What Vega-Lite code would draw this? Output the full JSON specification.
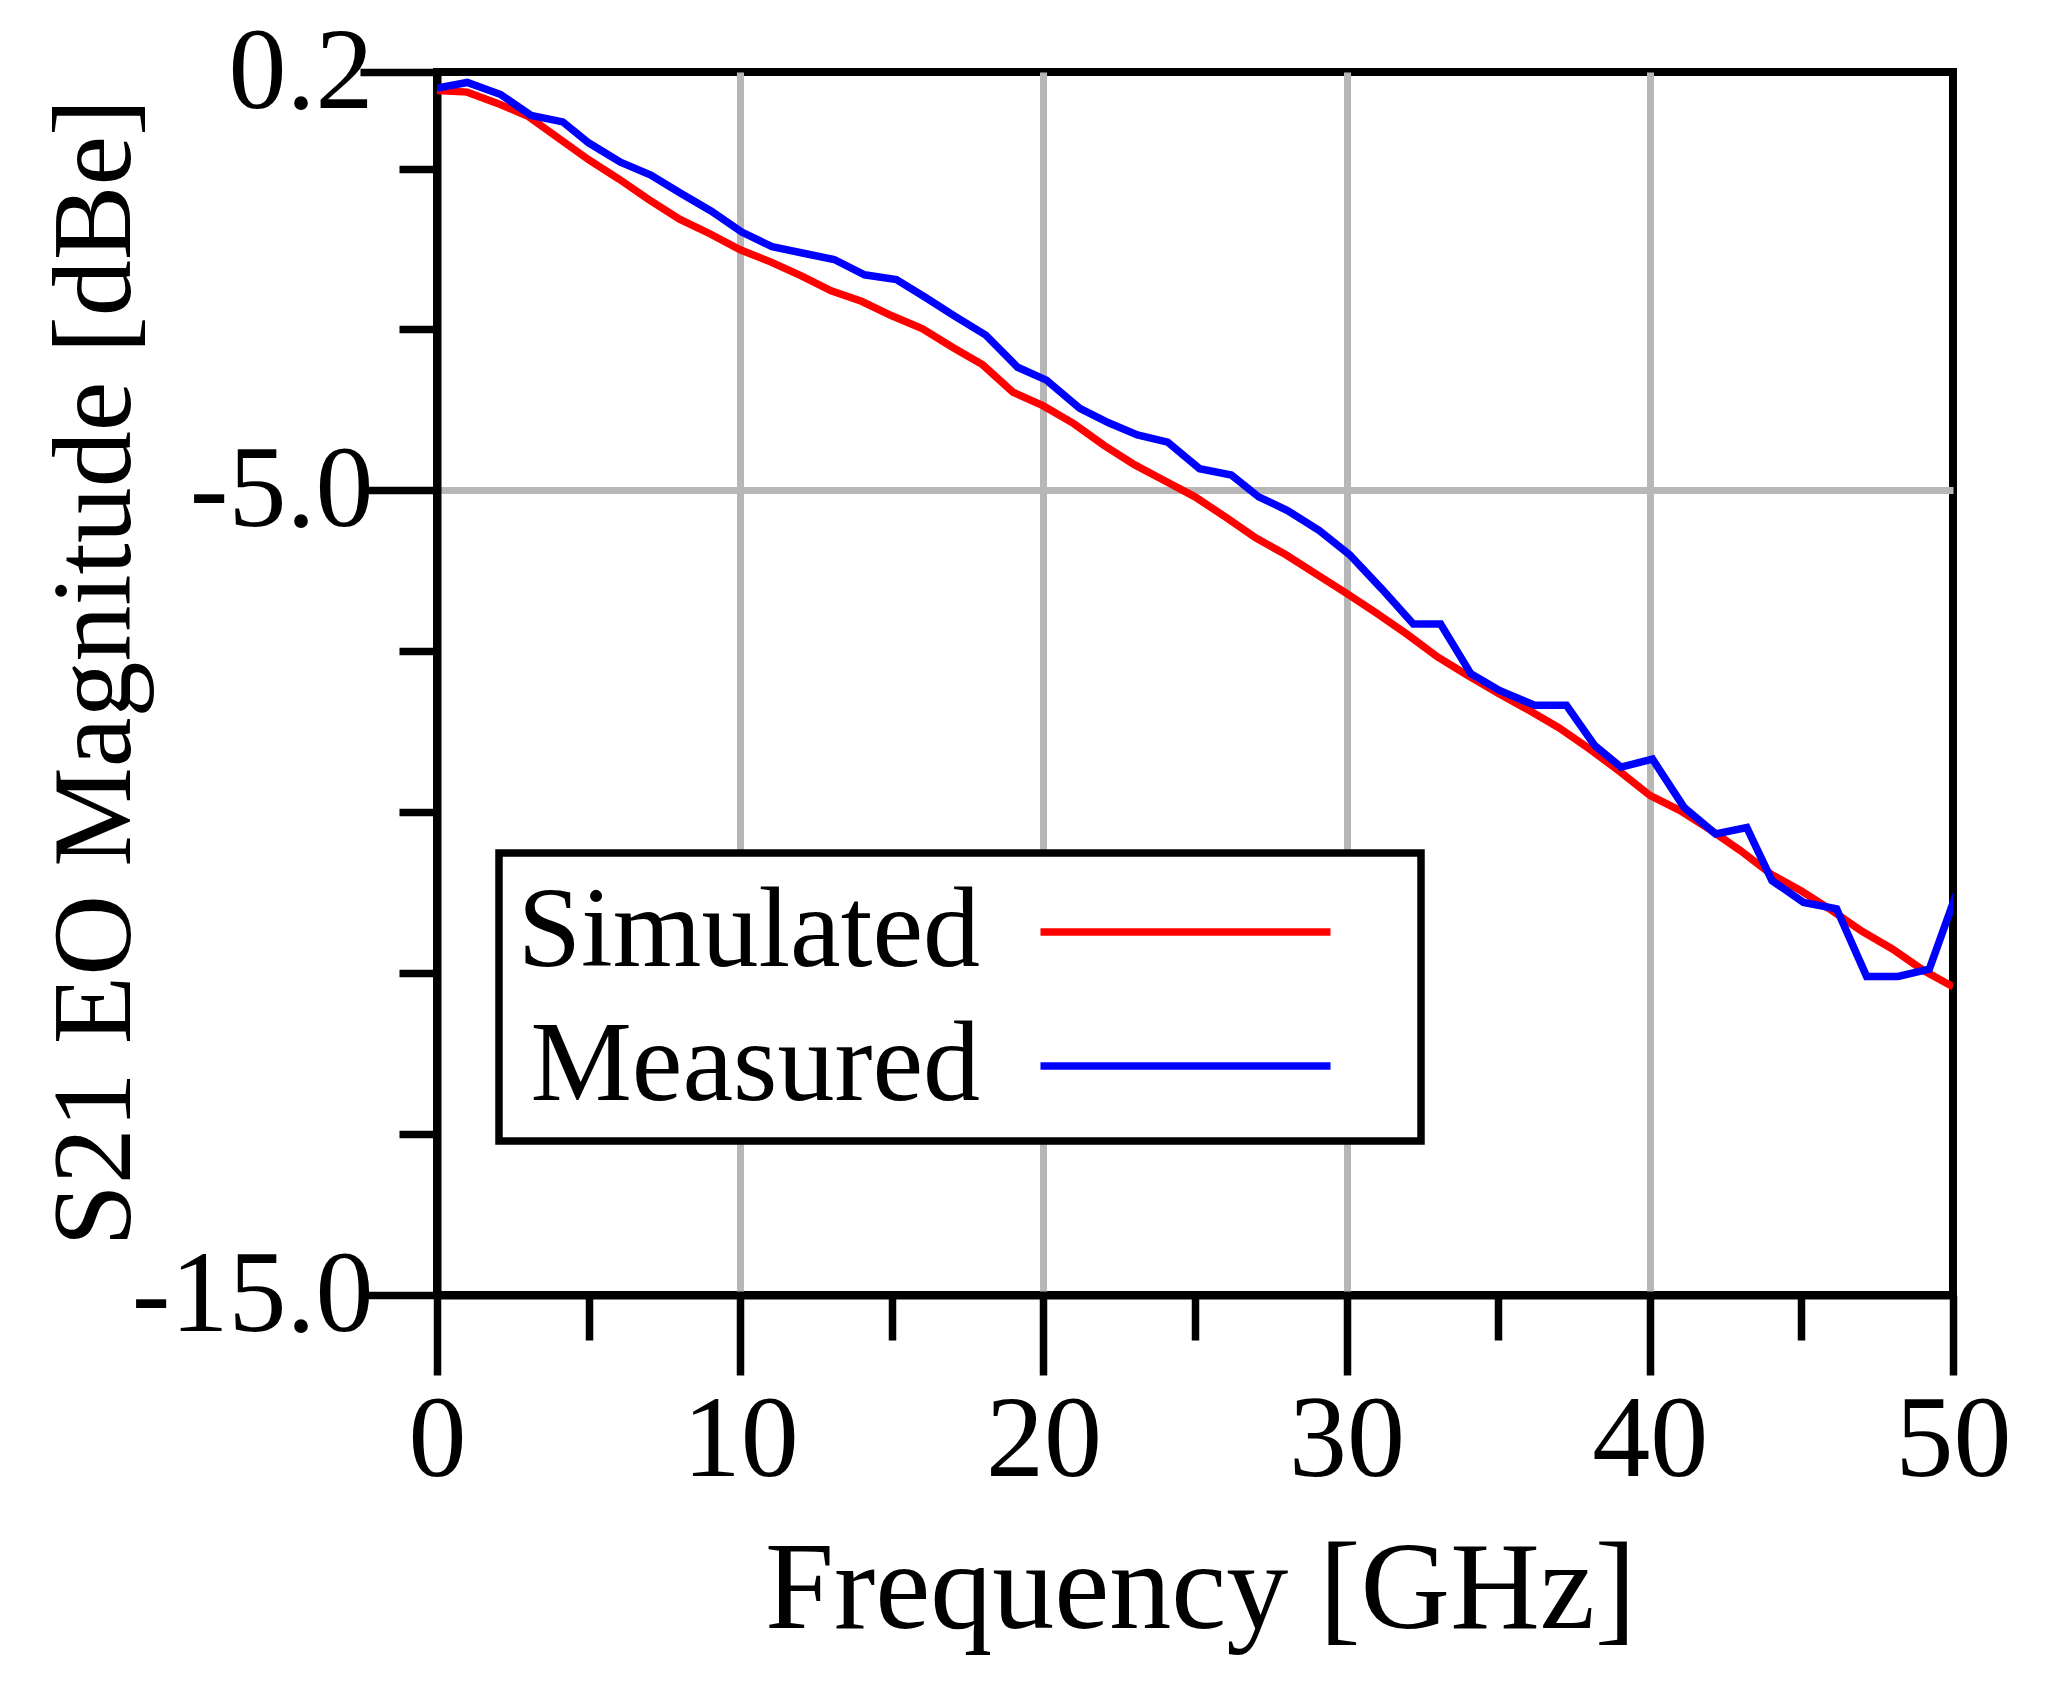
{
  "$schema": "https://vega.github.io/schema/vega-lite/v6.json",
  "width": 1516,
  "height": 1223,
  "autosize": {"type": "none"},
  "padding": {"left": 437, "top": 72, "right": 104, "bottom": 395},
  "background": "white",
  "data": {
    "values": [
      {"series": "Simulated", "freq": 0, "dB": -0.03},
      {"series": "Simulated", "freq": 1, "dB": -0.05},
      {"series": "Simulated", "freq": 2, "dB": -0.19},
      {"series": "Simulated", "freq": 3, "dB": -0.35},
      {"series": "Simulated", "freq": 4, "dB": -0.62},
      {"series": "Simulated", "freq": 5, "dB": -0.89},
      {"series": "Simulated", "freq": 6, "dB": -1.13},
      {"series": "Simulated", "freq": 7, "dB": -1.39},
      {"series": "Simulated", "freq": 8, "dB": -1.63},
      {"series": "Simulated", "freq": 9, "dB": -1.81},
      {"series": "Simulated", "freq": 10, "dB": -2.01},
      {"series": "Simulated", "freq": 11, "dB": -2.16},
      {"series": "Simulated", "freq": 12, "dB": -2.33},
      {"series": "Simulated", "freq": 13, "dB": -2.52},
      {"series": "Simulated", "freq": 14, "dB": -2.65},
      {"series": "Simulated", "freq": 15, "dB": -2.83},
      {"series": "Simulated", "freq": 16, "dB": -2.99},
      {"series": "Simulated", "freq": 17, "dB": -3.22},
      {"series": "Simulated", "freq": 18, "dB": -3.44},
      {"series": "Simulated", "freq": 19, "dB": -3.78},
      {"series": "Simulated", "freq": 20, "dB": -3.95},
      {"series": "Simulated", "freq": 21, "dB": -4.17},
      {"series": "Simulated", "freq": 22, "dB": -4.44},
      {"series": "Simulated", "freq": 23, "dB": -4.68},
      {"series": "Simulated", "freq": 24, "dB": -4.88},
      {"series": "Simulated", "freq": 25, "dB": -5.08},
      {"series": "Simulated", "freq": 26, "dB": -5.33},
      {"series": "Simulated", "freq": 27, "dB": -5.59},
      {"series": "Simulated", "freq": 28, "dB": -5.8},
      {"series": "Simulated", "freq": 29, "dB": -6.04},
      {"series": "Simulated", "freq": 30, "dB": -6.28},
      {"series": "Simulated", "freq": 31, "dB": -6.53},
      {"series": "Simulated", "freq": 32, "dB": -6.79},
      {"series": "Simulated", "freq": 33, "dB": -7.07},
      {"series": "Simulated", "freq": 34, "dB": -7.3},
      {"series": "Simulated", "freq": 35, "dB": -7.52},
      {"series": "Simulated", "freq": 36, "dB": -7.73},
      {"series": "Simulated", "freq": 37, "dB": -7.95},
      {"series": "Simulated", "freq": 38, "dB": -8.21},
      {"series": "Simulated", "freq": 39, "dB": -8.49},
      {"series": "Simulated", "freq": 40, "dB": -8.79},
      {"series": "Simulated", "freq": 41, "dB": -8.98},
      {"series": "Simulated", "freq": 42, "dB": -9.22},
      {"series": "Simulated", "freq": 43, "dB": -9.48},
      {"series": "Simulated", "freq": 44, "dB": -9.77},
      {"series": "Simulated", "freq": 45, "dB": -9.98},
      {"series": "Simulated", "freq": 46, "dB": -10.22},
      {"series": "Simulated", "freq": 47, "dB": -10.48},
      {"series": "Simulated", "freq": 48, "dB": -10.7},
      {"series": "Simulated", "freq": 49, "dB": -10.96},
      {"series": "Simulated", "freq": 50, "dB": -11.17},
      {"series": "Measured", "freq": 0, "dB": 0.0},
      {"series": "Measured", "freq": 1.0, "dB": 0.07},
      {"series": "Measured", "freq": 2.1, "dB": -0.08},
      {"series": "Measured", "freq": 3.1, "dB": -0.34},
      {"series": "Measured", "freq": 4.15, "dB": -0.42},
      {"series": "Measured", "freq": 5.0, "dB": -0.68},
      {"series": "Measured", "freq": 6.05, "dB": -0.92},
      {"series": "Measured", "freq": 7.05, "dB": -1.08},
      {"series": "Measured", "freq": 8.05, "dB": -1.31},
      {"series": "Measured", "freq": 9.05, "dB": -1.53},
      {"series": "Measured", "freq": 10.05, "dB": -1.79},
      {"series": "Measured", "freq": 11.05, "dB": -1.97},
      {"series": "Measured", "freq": 12.05, "dB": -2.05},
      {"series": "Measured", "freq": 13.1, "dB": -2.13},
      {"series": "Measured", "freq": 14.1, "dB": -2.32},
      {"series": "Measured", "freq": 15.15, "dB": -2.38},
      {"series": "Measured", "freq": 16.1, "dB": -2.6},
      {"series": "Measured", "freq": 17.1, "dB": -2.84},
      {"series": "Measured", "freq": 18.1, "dB": -3.07},
      {"series": "Measured", "freq": 19.15, "dB": -3.47},
      {"series": "Measured", "freq": 20.1, "dB": -3.63},
      {"series": "Measured", "freq": 21.2, "dB": -3.98},
      {"series": "Measured", "freq": 22.15, "dB": -4.16},
      {"series": "Measured", "freq": 23.1, "dB": -4.31},
      {"series": "Measured", "freq": 24.1, "dB": -4.4},
      {"series": "Measured", "freq": 25.15, "dB": -4.73},
      {"series": "Measured", "freq": 26.2, "dB": -4.81},
      {"series": "Measured", "freq": 27.1, "dB": -5.08},
      {"series": "Measured", "freq": 28.05, "dB": -5.25},
      {"series": "Measured", "freq": 29.1, "dB": -5.5},
      {"series": "Measured", "freq": 30.1, "dB": -5.8},
      {"series": "Measured", "freq": 31.15, "dB": -6.22},
      {"series": "Measured", "freq": 32.2, "dB": -6.66},
      {"series": "Measured", "freq": 33.1, "dB": -6.66},
      {"series": "Measured", "freq": 34.1, "dB": -7.28},
      {"series": "Measured", "freq": 35.06, "dB": -7.49},
      {"series": "Measured", "freq": 36.2, "dB": -7.67},
      {"series": "Measured", "freq": 37.25, "dB": -7.67},
      {"series": "Measured", "freq": 38.18, "dB": -8.17},
      {"series": "Measured", "freq": 39.05, "dB": -8.44},
      {"series": "Measured", "freq": 40.09, "dB": -8.34},
      {"series": "Measured", "freq": 41.13, "dB": -8.94},
      {"series": "Measured", "freq": 42.17, "dB": -9.27},
      {"series": "Measured", "freq": 43.2, "dB": -9.19},
      {"series": "Measured", "freq": 44.03, "dB": -9.85},
      {"series": "Measured", "freq": 45.07, "dB": -10.12},
      {"series": "Measured", "freq": 46.16, "dB": -10.2},
      {"series": "Measured", "freq": 47.15, "dB": -11.04},
      {"series": "Measured", "freq": 48.19, "dB": -11.04},
      {"series": "Measured", "freq": 49.22, "dB": -10.95},
      {"series": "Measured", "freq": 50.2, "dB": -9.92}
    ]
  },
  "mark": {"type": "line", "strokeWidth": 7.5, "clip": true},
  "encoding": {
    "x": {
      "field": "freq",
      "type": "quantitative",
      "scale": {"domain": [0, 50], "nice": false, "zero": false},
      "axis": {
        "title": "Frequency [GHz]",
        "values": [0, 5, 10, 15, 20, 25, 30, 35, 40, 45, 50],
        "format": "d",
        "labelExpr": "datum.value % 10 === 0 ? datum.label : ''",
        "tickSize": {"condition": {"test": "datum.value % 10 === 0", "value": 80}, "value": 45},
        "grid": true,
        "gridOpacity": {"condition": {"test": "datum.value > 0 && datum.value < 50 && datum.value % 10 === 0", "value": 1}, "value": 0},
        "labelFontSize": 116,
        "labelBaseline": "alphabetic",
        "labelPadding": 100,
        "labelLimit": 1000,
        "labelFlush": false,
        "labelOverlap": false,
        "labelBound": false,
        "titleFontSize": 124,
        "titleX": 763,
        "titleY": 332,
        "titleAlign": "center",
        "titleBaseline": "alphabetic",
        "titleLimit": 3000
      }
    },
    "y": {
      "field": "dB",
      "type": "quantitative",
      "scale": {"domain": [-15, 0.2], "nice": false, "zero": false},
      "axis": {
        "title": "S21 EO Magnitude [dBe]",
        "values": [-15, -13, -11, -9, -7, -5, -3, -1, 0.2],
        "labelExpr": "datum.value === 0.2 ? '0.2' : datum.value === -5 ? '-5.0' : datum.value === -15 ? '-15.0' : ''",
        "tickSize": {"condition": {"test": "datum.value === 0.2 || datum.value === -5 || datum.value === -15", "value": 77}, "value": 38},
        "grid": true,
        "gridOpacity": {"condition": {"test": "datum.value === -5", "value": 1}, "value": 0},
        "labelFontSize": 116,
        "labelAlign": "right",
        "labelBaseline": "middle",
        "labelPadding": -13,
        "labelLimit": 1000,
        "labelOverlap": false,
        "labelBound": false,
        "labelFlush": false,
        "titleFontSize": 112,
        "titleAngle": 270,
        "titleX": -308,
        "titleY": 600,
        "titleAlign": "center",
        "titleBaseline": "alphabetic",
        "titleLimit": 3000
      }
    },
    "color": {
      "field": "series",
      "type": "nominal",
      "scale": {"domain": ["Simulated", "Measured"], "range": ["#ff0000", "#0000ff"]},
      "legend": {
        "orient": "none",
        "legendX": 62,
        "legendY": 781,
        "direction": "vertical",
        "title": " ",
        "titleOrient": "right",
        "titleFontSize": 1,
        "titlePadding": 57,
        "symbolType": "M-2.544,0H2.544",
        "symbolSize": 12996,
        "symbolStrokeWidth": 7.5,
        "symbolOffset": 607.5,
        "labelFont": "Liberation Serif",
        "labelFontSize": 114,
        "labelColor": "black",
        "labelAlign": "right",
        "labelBaseline": "middle",
        "labelOffset": -266.5,
        "labelLimit": 3000,
        "rowPadding": 16,
        "padding": 18,
        "strokeColor": "black",
        "fillColor": "white"
      }
    }
  },
  "config": {
    "view": {"stroke": "black", "strokeWidth": 8},
    "axis": {
      "domainColor": "black",
      "domainWidth": 8,
      "tickColor": "black",
      "tickWidth": 7.5,
      "gridColor": "#b7b7b7",
      "gridWidth": 7,
      "labelColor": "black",
      "titleColor": "black",
      "labelFont": "Liberation Serif",
      "titleFont": "Liberation Serif",
      "titleFontWeight": "normal"
    },
    "legend": {"strokeWidth": 7.5}
  }
}
